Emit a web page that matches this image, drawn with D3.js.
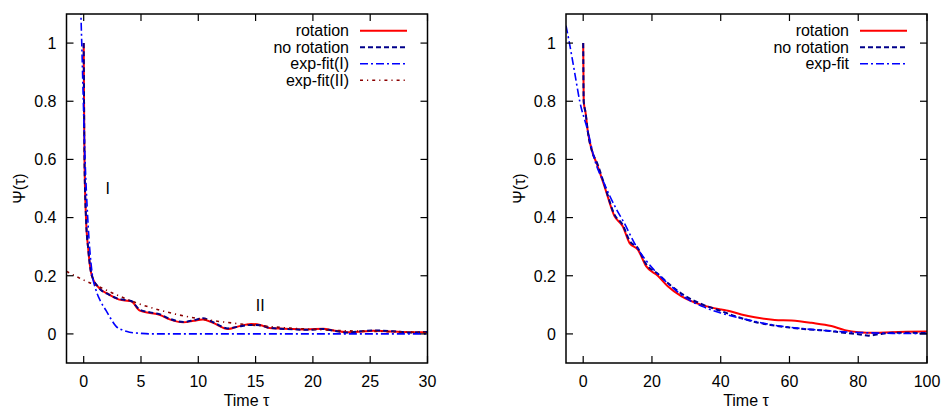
<!DOCTYPE html>
<html>
<head>
<meta charset="utf-8">
<script src="https://cdn.jsdelivr.net/npm/d3@7"></script>
<style>
  body { margin: 0; background: #fff; }
  svg { display: block; font-family: "Liberation Sans", Arial, sans-serif; }
</style>
</head>
<body>
<svg width="945" height="410"></svg>
<script>
// ---- data ----
// left panel: short-time range
const leftRotation = [
  [0, 1.0], [0.03, 0.8], [0.07, 0.6], [0.2, 0.4], [0.4, 0.29], [0.6, 0.22], [0.85, 0.185],
  [1.2, 0.164], [1.5, 0.152], [2, 0.14], [3.1, 0.118], [3.6, 0.115], [4.15, 0.112], [4.9, 0.08],
  [5.8, 0.072], [6.6, 0.066], [7.5, 0.05], [8.7, 0.04], [9.6, 0.045], [10.4, 0.05],
  [11.3, 0.038], [12.6, 0.017], [13.5, 0.026], [14.6, 0.034], [15.4, 0.031], [16.2, 0.02],
  [18.3, 0.017], [19.5, 0.015], [20.9, 0.018], [21.8, 0.012], [23, 0.006], [24.2, 0.008],
  [25.3, 0.011], [27, 0.008], [28.5, 0.006], [30, 0.006]
]
const leftNoRotation = [
  [0, 1.0], [0.03, 0.8], [0.07, 0.6], [0.2, 0.4], [0.4, 0.29], [0.6, 0.22], [0.85, 0.186],
  [1.2, 0.165], [1.5, 0.151], [2, 0.139], [3.1, 0.12], [3.6, 0.117], [4.15, 0.113], [4.9, 0.083],
  [5.8, 0.074], [6.6, 0.068], [7.5, 0.052], [8.7, 0.041], [9.6, 0.047], [10.4, 0.054],
  [11.3, 0.04], [12.6, 0.019], [13.5, 0.025], [14.6, 0.031], [15.4, 0.03], [16.2, 0.021],
  [18.3, 0.016], [19.5, 0.014], [20.9, 0.017], [21.8, 0.011], [23, 0.005], [24.2, 0.009],
  [25.3, 0.012], [27, 0.009], [28.5, 0.005], [30, 0.007]
]
const leftFitI = [
  [-0.3, 1.18], [-0.17, 1.0], [0.12, 0.6], [0.35, 0.4], [0.73, 0.21], [1.08, 0.15],
  [1.5, 0.11], [1.96, 0.08], [2.4, 0.05], [2.83, 0.026], [3.4, 0.013], [4, 0.006],
  [5, 0.002], [6, 0.0], [30, 0.0]
]
const leftFitII = [
  [-1.5, 0.215], [0, 0.185], [1.2, 0.165], [2, 0.15], [3, 0.132], [4, 0.116], [5, 0.101],
  [6, 0.089], [7, 0.078], [8, 0.068], [9, 0.06], [10, 0.053], [12, 0.042], [14, 0.033],
  [16, 0.026], [18, 0.02], [20, 0.016], [22, 0.012], [25, 0.009], [30, 0.005]
]

// right panel: long-time range
const rightRotation = [
  [0, 1.0], [0.15, 0.8], [0.7, 0.76], [1.3, 0.7], [2.8, 0.62], [3.8, 0.59], [6.2, 0.507],
  [9.1, 0.405], [11.5, 0.37], [13.5, 0.312], [15.9, 0.29], [18.3, 0.233], [21.7, 0.2],
  [24.6, 0.164], [28.5, 0.13], [34.4, 0.1], [40.2, 0.084], [42.1, 0.08], [46, 0.067],
  [49.9, 0.057], [55.7, 0.048], [60.6, 0.046], [66.4, 0.038], [72.2, 0.027], [76.1, 0.013],
  [80, 0.006], [84.9, 0.004], [89.7, 0.006], [100, 0.008]
]
const rightNoRotation = [
  [0, 1.0], [0.15, 0.8], [0.7, 0.76], [1.3, 0.7], [2.8, 0.62], [3.8, 0.595], [6.2, 0.512],
  [9.1, 0.41], [11.5, 0.375], [13.5, 0.32], [15.9, 0.295], [18.3, 0.24], [21.7, 0.207],
  [24.6, 0.175], [30, 0.128], [35, 0.1], [40, 0.079], [45, 0.058], [50, 0.041],
  [55, 0.03], [60, 0.022], [65, 0.016], [70, 0.012], [75, 0.005], [80, -0.001],
  [83, -0.006], [86, -0.001], [90, 0.004], [100, 0.003]
]
const rightFit = [
  [-5, 1.06], [-4, 1.0], [-2.5, 0.9], [-1, 0.8], [1.3, 0.7], [3.3, 0.6], [6, 0.52],
  [9.6, 0.43], [12, 0.38], [15, 0.31], [20, 0.228], [25, 0.17], [30, 0.122], [35, 0.093],
  [40, 0.072], [45, 0.056], [50, 0.043], [55, 0.031], [60, 0.023], [70, 0.012],
  [80, 0.005], [90, 0.002], [100, 0.001]
]

const leftXTicks = [0, 5, 10, 15, 20, 25, 30]
const rightXTicks = [0, 20, 40, 60, 80, 100]
const yTicks = [0, 0.2, 0.4, 0.6, 0.8, 1]

const leftLabels = [{text: "I", x: 2.1, y: 0.5}, {text: "II", x: 15.4, y: 0.1}]

const styles = {
  rotation:   {color: "#ff0000", width: 2, dash: null},
  noRotation: {color: "#00008b", width: 2, dash: "5,3"},
  fit:        {color: "#0000ff", width: 1.6, dash: "8,3,2,3"},
  fit2:       {color: "#8b0000", width: 1.6, dash: "3,4,1.2,4"}
}

const svg = d3.select("svg")

function drawPanel(opt) {
  const {x0, x1, y0, y1} = opt
  const x = d3.scaleLinear().domain(opt.xDomain).range([x0, x1])
  const y = d3.scaleLinear().domain([-0.1, 1.1]).range([y1, y0])
  const g = svg.append("g")

  const clipId = "clip" + opt.id
  g.append("clipPath").attr("id", clipId)
    .append("rect").attr("x", x0).attr("y", y0).attr("width", x1 - x0).attr("height", y1 - y0)

  // series
  const line = d3.line().x(d => x(d[0])).y(d => y(d[1])).curve(d3.curveMonotoneX)
  const plot = g.append("g").attr("clip-path", `url(#${clipId})`)
  opt.series.forEach(s => {
    plot.append("path")
      .datum(s.data)
      .attr("d", line)
      .attr("fill", "none")
      .attr("stroke", s.style.color)
      .attr("stroke-width", s.style.width)
      .attr("stroke-dasharray", s.style.dash)
  })

  // ticks, mirrored on all four sides, pointing inwards
  const tl = 7
  const tk = g.append("g").attr("stroke", "#000").attr("stroke-width", 1.2)
  opt.xTicks.forEach(t => {
    tk.append("line").attr("x1", x(t)).attr("x2", x(t)).attr("y1", y1).attr("y2", y1 - tl)
    tk.append("line").attr("x1", x(t)).attr("x2", x(t)).attr("y1", y0).attr("y2", y0 + tl)
  })
  yTicks.forEach(t => {
    tk.append("line").attr("x1", x0).attr("x2", x0 + tl).attr("y1", y(t)).attr("y2", y(t))
    tk.append("line").attr("x1", x1).attr("x2", x1 - tl).attr("y1", y(t)).attr("y2", y(t))
  })

  // tick labels
  g.append("g").selectAll("text").data(opt.xTicks).join("text")
    .attr("x", d => x(d)).attr("y", 387)
    .attr("text-anchor", "middle").attr("font-size", 16)
    .text(d => d)
  g.append("g").selectAll("text").data(yTicks).join("text")
    .attr("x", x0 - 10).attr("y", d => y(d)).attr("dy", "0.36em")
    .attr("text-anchor", "end").attr("font-size", 16)
    .text(d => d3.format("~g")(d))

  // frame
  g.append("rect").attr("x", x0).attr("y", y0).attr("width", x1 - x0).attr("height", y1 - y0)
    .attr("fill", "none").attr("stroke", "#000").attr("stroke-width", 1.5)

  // axis titles
  g.append("text").attr("x", (x0 + x1) / 2 - 0.5).attr("y", 406)
    .attr("text-anchor", "middle").attr("font-size", 16).text("Time τ")
  g.append("text")
    .attr("transform", `translate(${x0 - 47},${(y0 + y1) / 2}) rotate(-90)`)
    .attr("text-anchor", "middle").attr("dy", "0.35em").attr("font-size", 16)
    .text("Ψ(τ)")

  // in-plot labels
  ;(opt.labels || []).forEach(l => {
    g.append("text").attr("x", x(l.x)).attr("y", y(l.y)).attr("dy", "0.36em")
      .attr("text-anchor", "middle").attr("font-size", 16).text(l.text)
  })

  // legend
  const leg = g.append("g")
  opt.series.forEach((s, i) => {
    const ry = 30.7 + i * 16.5
    leg.append("text").attr("x", opt.legendX).attr("y", ry).attr("dy", "0.36em")
      .attr("text-anchor", "end").attr("font-size", 16).text(s.name)
    leg.append("line")
      .attr("x1", opt.legendX + 11).attr("x2", opt.legendX + 58)
      .attr("y1", ry).attr("y2", ry)
      .attr("stroke", s.style.color).attr("stroke-width", s.style.width)
      .attr("stroke-dasharray", s.style.dash)
  })
}

drawPanel({
  id: "L", x0: 66.5, x1: 427.5, y0: 14, y1: 363, xDomain: [-1.5, 30],
  xTicks: leftXTicks, legendX: 349, labels: leftLabels,
  series: [
    {name: "rotation", data: leftRotation, style: styles.rotation},
    {name: "no rotation", data: leftNoRotation, style: styles.noRotation},
    {name: "exp-fit(I)", data: leftFitI, style: styles.fit},
    {name: "exp-fit(II)", data: leftFitII, style: styles.fit2}
  ]
})

drawPanel({
  id: "R", x0: 566, x1: 927, y0: 14, y1: 363, xDomain: [-5, 100],
  xTicks: rightXTicks, legendX: 849,
  series: [
    {name: "rotation", data: rightRotation, style: styles.rotation},
    {name: "no rotation", data: rightNoRotation, style: styles.noRotation},
    {name: "exp-fit", data: rightFit, style: styles.fit}
  ]
})
</script>
</body>
</html>
